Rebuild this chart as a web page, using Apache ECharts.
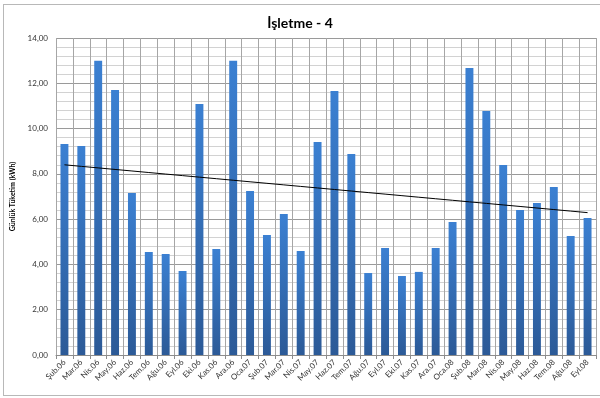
<!DOCTYPE html>
<html>
<head>
<meta charset="utf-8">
<script src="https://cdn.jsdelivr.net/npm/echarts@6/dist/echarts.min.js"></script>
<style>
  html, body { margin: 0; padding: 0; background: #fff; }
  #frame { position: absolute; left: 3px; top: 4px; width: 600px; height: 392px; border: 1px solid #b8b8b8; box-sizing: border-box; }
  #chart { position: absolute; left: 0; top: 0; width: 600px; height: 398px; }
</style>
</head>
<body>
<div id="frame"></div>
<div id="chart"></div>
<script>
// Monthly categories (Feb 2006 – Sep 2008)
const months = ['Şub.06','Mar.06','Nis.06','May.06','Haz.06','Tem.06','Ağu.06','Eyl.06','Eki.06','Kas.06','Ara.06',
  'Oca.07','Şub.07','Mar.07','Nis.07','May.07','Haz.07','Tem.07','Ağu.07','Eyl.07','Eki.07','Kas.07','Ara.07',
  'Oca.08','Şub.08','Mar.08','Nis.08','May.08','Haz.08','Tem.08','Ağu.08','Eyl.08'];

// Daily consumption, kWh
const dailyKwh = [9.32, 9.23, 12.99, 11.70, 7.16, 4.55, 4.46, 3.71, 11.09, 4.68, 12.99,
  7.24, 5.30, 6.23, 4.59, 9.41, 11.66, 8.88, 3.62, 4.73, 3.49, 3.67, 4.73,
  5.87, 12.68, 10.78, 8.39, 6.40, 6.71, 7.42, 5.26, 6.05];

// Y axis ticks
const yTicks = [0, 2, 4, 6, 8, 10, 12, 14];

// Least-squares linear trend over the series
function linearTrend(values) {
  const n = values.length;
  let sx = 0, sy = 0, sxy = 0, sxx = 0;
  values.forEach((v, i) => { const x = i + 1; sx += x; sy += v; sxy += x * v; sxx += x * x; });
  const b = (n * sxy - sx * sy) / (n * sxx - sx * sx);
  const a = (sy - b * sx) / n;
  return values.map((_, i) => +(a + b * (i + 1)).toFixed(4));
}
const trend = linearTrend(dailyKwh);

const fontFam = 'Lato, "Open Sans", "Liberation Sans", sans-serif';
const chart = echarts.init(document.getElementById('chart'), null, { renderer: 'canvas' });
chart.setOption({
  animation: false,
  backgroundColor: 'transparent',
  title: {
    text: 'İşletme - 4',
    left: 'center', top: 11,
    textStyle: { fontFamily: fontFam, fontSize: 14, fontWeight: 'bold', color: '#000' }
  },
  grid: { left: 56, right: 4, top: 38, bottom: 43 },
  xAxis: {
    type: 'category',
    data: months,
    boundaryGap: true,
    axisLine: { show: true, lineStyle: { color: '#8c8c8c', width: 1 } },
    axisTick: { show: true, length: 4, lineStyle: { color: '#8c8c8c' } },
    splitLine: { show: true, lineStyle: { color: '#a6a6a6', width: 1 } },
    axisLabel: {
      interval: 0, rotate: 45, margin: 6,
      fontFamily: fontFam, fontSize: 8, color: '#333'
    }
  },
  yAxis: {
    type: 'value',
    min: yTicks[0], max: yTicks[yTicks.length - 1], interval: 2,
    name: 'Günlük Tüketim (kWh)',
    nameLocation: 'middle', nameGap: 36, nameRotate: 90,
    nameTextStyle: { fontFamily: fontFam, fontSize: 7, fontWeight: 'bold', color: '#000' },
    axisLine: { show: false },
    axisTick: { show: false },
    axisLabel: {
      fontFamily: fontFam, fontSize: 8, color: '#333', margin: 8,
      formatter: v => v.toFixed(2).replace('.', ',')
    },
    splitLine: { show: true, lineStyle: { color: '#9a9a9a', width: 1 } },
    minorTick: { show: false, splitNumber: 5 },
    minorSplitLine: { show: true, lineStyle: { color: '#d2d2d2', width: 1 } }
  },
  series: [
    {
      type: 'bar',
      data: dailyKwh,
      barWidth: '47%',
      itemStyle: {
        color: new echarts.graphic.LinearGradient(0, 0, 0, 1, [
          { offset: 0, color: '#3b80d2' },
          { offset: 1, color: '#2c5a97' }
        ])
      }
    },
    {
      type: 'line',
      data: trend,
      symbol: 'none',
      lineStyle: { color: '#000', width: 1 },
      z: 5
    }
  ]
});
</script>
</body>
</html>
